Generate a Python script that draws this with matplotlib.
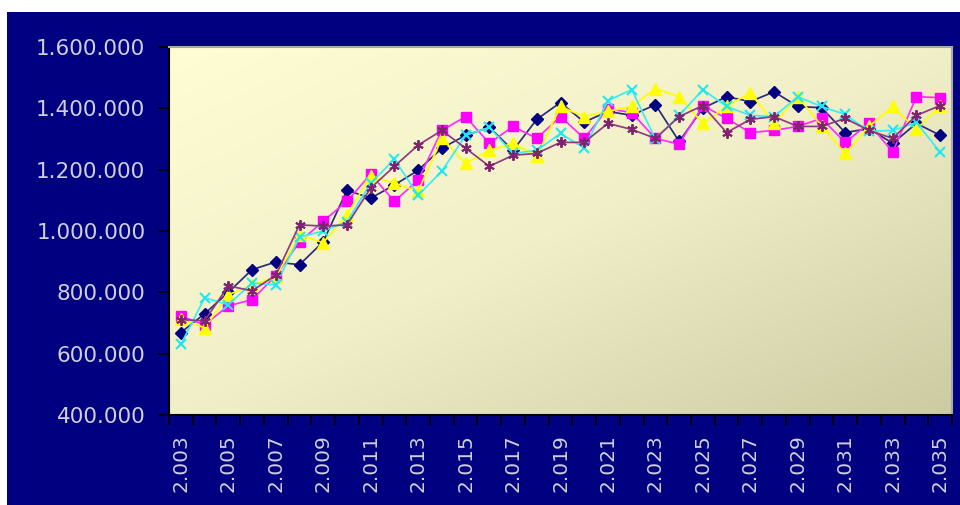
import numpy as np
import matplotlib
matplotlib.use("Agg")
import matplotlib.pyplot as plt
from matplotlib.patches import Rectangle
from matplotlib.ticker import FuncFormatter, FixedLocator
from matplotlib.colors import LinearSegmentedColormap

years = list(range(2003, 2036))

series_navy = [669, 730, 800, 874, 899, 890, 965, 1133, 1107, 1150, 1198, 1270, 1312,
               1338, 1263, 1364, 1419, 1355, 1390, 1377, 1412, 1292, 1400, 1438, 1422,
               1454, 1406, 1402, 1321, 1334, 1286, 1351, 1312]
series_magenta = [723, 694, 756, 776, 854, 964, 1032, 1097, 1185, 1097, 1166, 1328, 1373,
                  1286, 1341, 1302, 1373, 1302, 1399, 1386, 1302, 1283, 1409, 1367, 1321,
                  1328, 1341, 1367, 1289, 1351, 1257, 1438, 1435]
series_yellow = [714, 684, 792, 824, 850, 987, 962, 1053, 1179, 1156, 1130, 1302, 1221,
                 1263, 1286, 1244, 1406, 1373, 1390, 1406, 1464, 1438, 1351, 1406, 1451,
                 1351, 1438, 1344, 1253, 1341, 1406, 1331, 1409]
series_cyan = [630, 782, 760, 830, 824, 980, 1000, 1030, 1156, 1234, 1117, 1195, 1312,
               1338, 1253, 1263, 1318, 1270, 1425, 1461, 1300, 1377, 1461, 1406, 1377,
               1373, 1438, 1406, 1380, 1325, 1328, 1354, 1257]
series_purple = [711, 707, 821, 805, 856, 1020, 1016, 1020, 1140, 1211, 1280, 1328, 1270,
                 1211, 1247, 1253, 1289, 1289, 1351, 1331, 1302, 1373, 1409, 1321, 1364,
                 1373, 1341, 1341, 1367, 1328, 1302, 1377, 1409]

# values are in thousands
scale = 1000

navy_bg = "#000080"
label_color = "#CFCFDD"

fig = plt.figure(figsize=(9.6, 5.05), dpi=100)
fig.patch.set_facecolor("white")
fig.patches.append(Rectangle((7 / 960, 0), 953 / 960, (505 - 12) / 505,
                             transform=fig.transFigure, facecolor=navy_bg,
                             edgecolor="none", zorder=-10))

ax = fig.add_axes([169 / 960, 1 - 415 / 505, (952 - 169) / 960, (415 - 47) / 505])

# diagonal gradient fill for the plot area
cmap = LinearSegmentedColormap.from_list("pa", ["#FFFDD3", "#F1EFC8", "#CDCBA2"])
gx, gy = np.meshgrid(np.linspace(0, 1, 300), np.linspace(1, 0, 200))
grad = (gx + (1 - gy)) / 2
ax.imshow(grad, cmap=cmap, extent=(0, 1, 0, 1), transform=ax.transAxes,
          aspect="auto", zorder=0, interpolation="bilinear")

x = np.arange(len(years))
styles = [
    (series_navy, dict(color="#2B2B80", marker="D", ms=6.5, mfc="#000080", mec="#000080")),
    (series_magenta, dict(color="#FF2CFF", marker="s", ms=7.5, mfc="#FF00FF", mec="#FF00FF")),
    (series_yellow, dict(color="#FFFF00", marker="^", ms=8.5, mfc="#FFFF00", mec="#FFFF00")),
    (series_cyan, dict(color="#38EEF3", marker="x", ms=7.5, mew=1.5, mec="#20E8F0")),
    (series_purple, dict(color="#8E3A80", marker=(6, 2, 0), ms=7.5, mew=1.4, mec="#80246F")),
]
for vals, st in styles:
    ax.plot(x, np.array(vals) * scale, lw=1.25, zorder=3, **st)

ax.set_xlim(-0.5, len(years) - 0.5)
ax.set_ylim(400000, 1600000)
ax.set_yticks(np.arange(400000, 1600001, 200000))
ax.yaxis.set_major_formatter(FuncFormatter(lambda v, p: f"{int(v):,}".replace(",", ".")))

ax.set_xticks(x[::2])
ax.set_xticklabels([f"{y:,}".replace(",", ".") for y in years[::2]], rotation=90)
ax.xaxis.set_minor_locator(FixedLocator(np.arange(-0.5, len(years), 1.0)))

ax.tick_params(axis="y", which="major", direction="out", length=8, width=1.2,
               color="black", labelcolor=label_color, labelsize=15.5, pad=9)
ax.tick_params(axis="x", which="major", length=0, labelcolor=label_color,
               labelsize=14.5, pad=14)
ax.tick_params(axis="x", which="minor", direction="out", length=7, width=1.2,
               color="black")

for lab in ax.get_xticklabels() + ax.get_yticklabels():
    lab.set_fontfamily("DejaVu Sans")

ax.spines["left"].set_color("black")
ax.spines["left"].set_linewidth(1.5)
ax.spines["bottom"].set_color("black")
ax.spines["bottom"].set_linewidth(1.5)
for s in ("top", "right"):
    ax.spines[s].set_color("#A8A8A8")
    ax.spines[s].set_linewidth(1.5)

fig.savefig("out.png", dpi=100, facecolor=fig.get_facecolor())
